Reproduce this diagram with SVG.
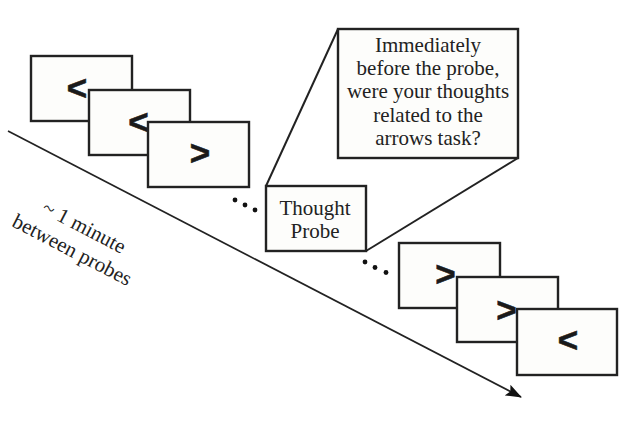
<svg xmlns="http://www.w3.org/2000/svg" width="632" height="442" viewBox="0 0 632 442">
<style>
.scr{fill:#fdfdfb;stroke:#222;stroke-width:2.4}
.arw{font-family:"Liberation Sans",Arial,sans-serif;font-weight:bold;font-size:35px;fill:#1a1a1a;stroke:#1a1a1a;stroke-width:0.6;text-anchor:middle}
.ser{font-family:"Liberation Serif","Times New Roman",serif;font-size:21px;fill:#222;text-anchor:middle}
.ln{stroke:#222;fill:none}
</style>
<defs>
<marker id="ah" viewBox="0 0 16 12" refX="15" refY="6" markerWidth="16" markerHeight="12" markerUnits="userSpaceOnUse" orient="auto">
<path d="M0,0 L16,6 L0,12 L3,6 Z" fill="#111"/>
</marker>
</defs>
<rect width="632" height="442" fill="#fff"/>
<g id="connectors">
<line class="ln" x1="8" y1="131" x2="521" y2="397" stroke-width="1.7" marker-end="url(#ah)"/>
<line class="ln" x1="266" y1="186" x2="338" y2="29" stroke-width="2"/>
<line class="ln" x1="366" y1="251" x2="518" y2="158" stroke-width="2"/>
</g>
<g id="screen1"><rect class="scr" x="31" y="56" width="101" height="65"/><text class="arw" x="77" y="99.6">&lt;</text></g>
<g id="screen2"><rect class="scr" x="89" y="90" width="101" height="65"/><text class="arw" x="138.5" y="134">&lt;</text></g>
<g id="screen3"><rect class="scr" x="148" y="122" width="101" height="65"/><text class="arw" x="200" y="165">&gt;</text></g>
<g id="dots1"><circle cx="235" cy="200" r="2.4" fill="#111"/><circle cx="245" cy="205" r="2.4" fill="#111"/><circle cx="255" cy="210" r="2.4" fill="#111"/></g>
<g id="probe"><rect class="scr" x="266" y="186" width="100" height="65"/><text class="ser" x="315" y="215">Thought</text><text class="ser" x="315" y="238">Probe</text></g>
<g id="question"><rect class="scr" x="338" y="29" width="180" height="129"/>
<text class="ser" x="428" y="52">Immediately</text>
<text class="ser" x="428" y="75">before the probe,</text>
<text class="ser" x="428" y="98">were your thoughts</text>
<text class="ser" x="428" y="122">related to the</text>
<text class="ser" x="428" y="145">arrows task?</text>
</g>
<g id="dots2"><circle cx="365" cy="262" r="2.4" fill="#111"/><circle cx="375" cy="267.5" r="2.4" fill="#111"/><circle cx="386" cy="272.5" r="2.4" fill="#111"/></g>
<g id="screen4"><rect class="scr" x="399" y="243" width="101" height="65"/><text class="arw" x="445.5" y="285.5">&gt;</text></g>
<g id="screen5"><rect class="scr" x="457" y="277" width="101" height="65"/><text class="arw" x="506.5" y="321.5">&gt;</text></g>
<g id="screen6"><rect class="scr" x="517" y="309" width="100" height="66"/><text class="arw" x="568" y="352">&lt;</text></g>
<g id="label">
<text class="ser" transform="translate(81,233) rotate(27.5)">~ 1 minute</text>
<text class="ser" transform="translate(69,256) rotate(27.5)">between probes</text>
</g>
</svg>
